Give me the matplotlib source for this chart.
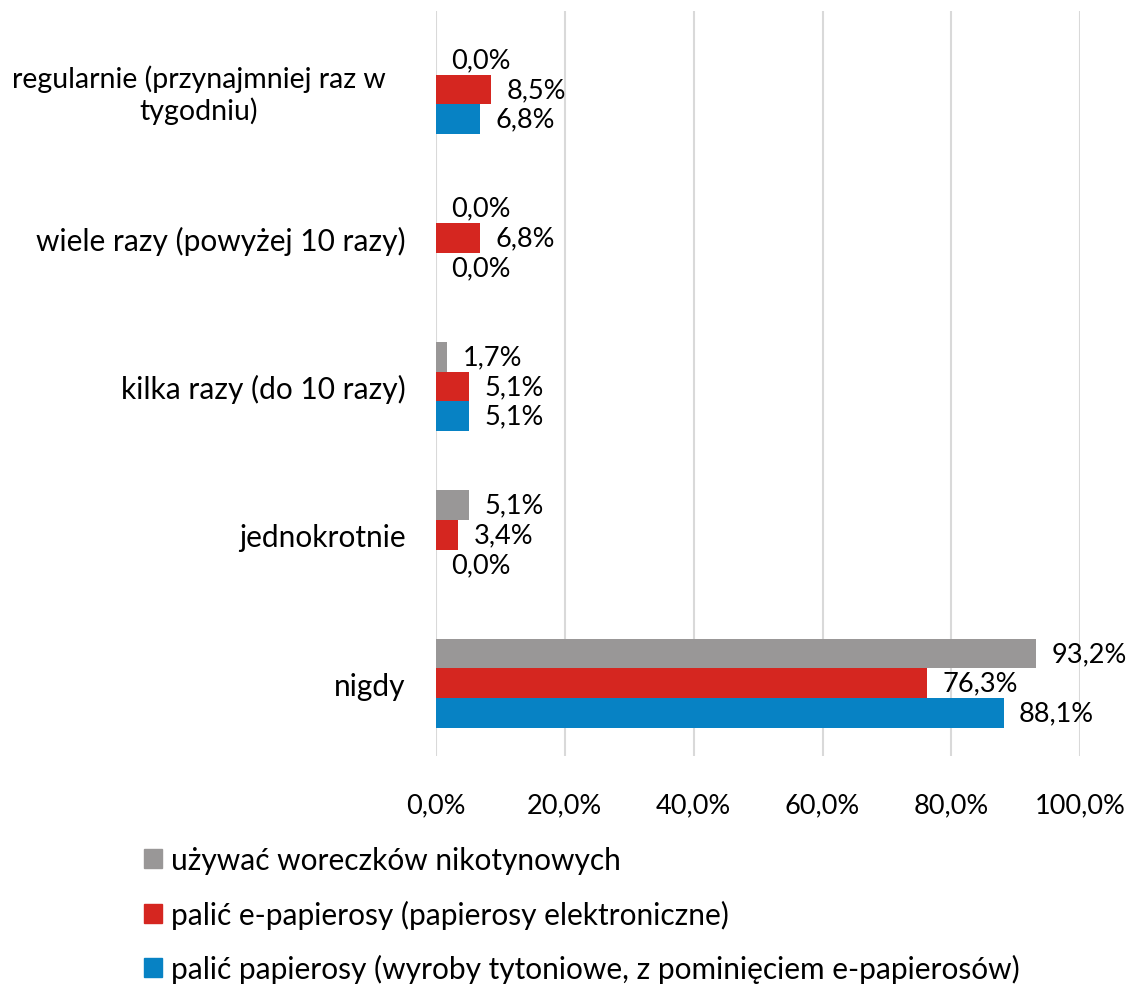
import numpy as np
import matplotlib.pyplot as plt
from matplotlib.patches import Patch
from matplotlib.transforms import ScaledTranslation

plt.rcParams['font.family'] = ['Lato', 'DejaVu Sans']

categories = ['nigdy', 'jednokrotnie', 'kilka razy (do 10 razy)',
              'wiele razy (powyżej 10 razy)',
              'regularnie (przynajmniej raz w\ntygodniu)']
woreczki = [93.2, 5.1, 1.7, 0.0, 0.0]
e_papierosy = [76.3, 3.4, 5.1, 6.8, 8.5]
papierosy = [88.1, 0.0, 5.1, 0.0, 6.8]
series_names = ['używać woreczków nikotynowych',
                'palić e-papierosy (papierosy elektroniczne)',
                'palić papierosy (wyroby tytoniowe, z pominięciem e-papierosów)']
colors = ['#999797', '#D52620', '#0782C4']

fig = plt.figure(figsize=(11.37, 9.87), dpi=100)
ax = fig.add_axes([0.3835, 0.233, 0.5665, 0.755])

y = np.arange(len(categories))
h = 0.2
fs_num = 19.5
fs_txt = 21.5
for vals, off, col in zip([woreczki, e_papierosy, papierosy], [h, 0, -h], colors):
    bars = ax.barh(y + off, vals, height=h, color=col, zorder=3)
    for b, v in zip(bars, vals):
        ax.text(v + 2.4, b.get_y() + h / 2, f'{v:.1f}%'.replace('.', ','),
                va='center', ha='left', fontsize=fs_num)

ax.set_xlim(0, 100)
ax.set_ylim(-0.49, 4.53)
ax.set_xticks(np.arange(0, 101, 20))
ax.set_xticklabels([f'{t:.1f}%'.replace('.', ',') for t in np.arange(0, 101, 20)],
                   fontsize=fs_num)
ax.set_yticks(y)
ax.set_yticklabels(categories, ha='right', multialignment='center', fontsize=fs_txt)
ax.tick_params(axis='both', length=0)
ax.tick_params(axis='x', pad=26)
ax.tick_params(axis='y', pad=22)
# wrapped label sits a bit further left in the original
lab = ax.get_yticklabels()[-1]
lab.set_fontsize(20.5)
lab.set_transform(lab.get_transform() + ScaledTranslation(-0.2, 0, fig.dpi_scale_trans))
ax.grid(axis='x', color='#d9d9d9', linewidth=1.5, zorder=0)
for s in ax.spines.values():
    s.set_visible(False)

handles = [Patch(color=c) for c in colors]
fig.legend(handles, series_names, loc='upper left', bbox_to_anchor=(0.1165, 0.1535),
           frameon=False, fontsize=fs_txt, handlelength=0.6, handleheight=0.6,
           handletextpad=0.3, labelspacing=0.84, borderaxespad=0)

fig.savefig('out.png', dpi=100)
